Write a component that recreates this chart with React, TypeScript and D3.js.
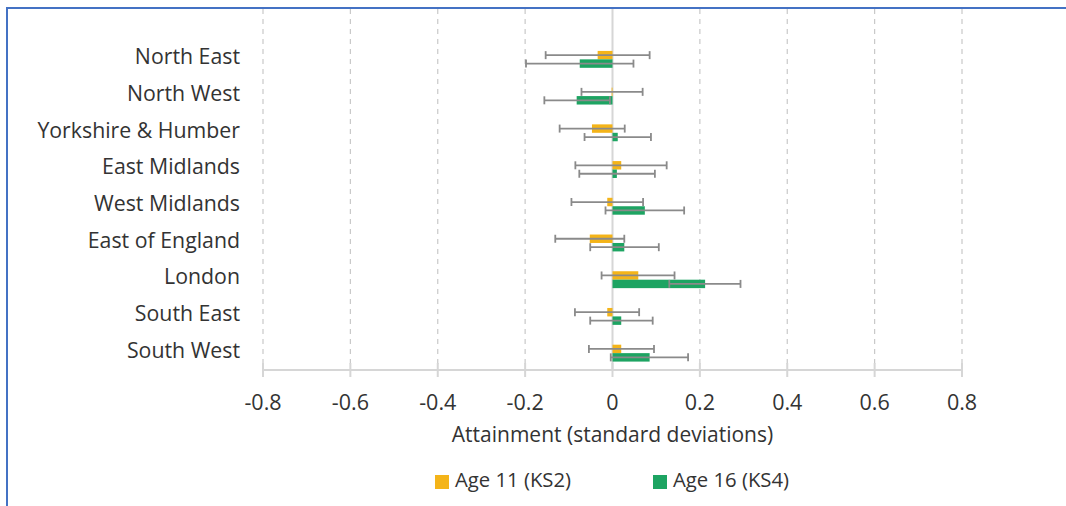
import * as d3 from 'd3';

const categories = [
  'North East',
  'North West',
  'Yorkshire & Humber',
  'East Midlands',
  'West Midlands',
  'East of England',
  'London',
  'South East',
  'South West',
];

// Age 11 (KS2): estimate and confidence interval
const ks2Values = [-0.034, -0.002, -0.047, 0.02, -0.012, -0.052, 0.059, -0.012, 0.02];
const ks2Low = [-0.153, -0.071, -0.121, -0.085, -0.094, -0.131, -0.025, -0.086, -0.054];
const ks2High = [0.085, 0.069, 0.028, 0.124, 0.07, 0.027, 0.142, 0.061, 0.095];

// Age 16 (KS4)
const ks4Values = [-0.075, -0.082, 0.012, 0.01, 0.074, 0.027, 0.212, 0.02, 0.085];
const ks4Low = [-0.198, -0.156, -0.064, -0.076, -0.016, -0.051, 0.13, -0.051, -0.004];
const ks4High = [0.048, -0.006, 0.088, 0.097, 0.164, 0.106, 0.293, 0.092, 0.173];

const xTicks = [-0.8, -0.6, -0.4, -0.2, 0, 0.2, 0.4, 0.6, 0.8];

const series = [
  {key: 'ks2', label: 'Age 11 (KS2)', color: '#F4B419', values: ks2Values, low: ks2Low, high: ks2High},
  {key: 'ks4', label: 'Age 16 (KS4)', color: '#1DA462', values: ks4Values, low: ks4Low, high: ks4High},
];

const width = 1066;
const height = 506;
const font = '"Open Sans", "Noto Sans", sans-serif';
const textColor = '#333333';

const App = () => {
  const x = d3.scaleLinear().domain([-0.8, 0.8]).range([263, 962]);
  const y = d3
    .scaleBand<string>()
    .domain(categories)
    .range([41, 371.5])
    .paddingInner(0.54)
    .paddingOuter(0.27);
  const ySub = d3
    .scaleBand<string>()
    .domain(series.map((s) => s.key))
    .range([0, y.bandwidth()]);

  const axisY = 370;
  const capH = 8;

  return (
    <svg
      width={width}
      height={height}
      style={{position: 'absolute', left: 0, top: 0, background: '#fff'}}
      fontFamily={font}
    >
      {/* frame */}
      <path d={`M7,${height} V8 H${width}`} fill='none' stroke='#4472C4' strokeWidth={2} />

      {/* grid */}
      {xTicks.map((t) =>
        t === 0 ? (
          <line key={t} x1={x(t)} x2={x(t)} y1={9} y2={axisY} stroke='#d6d6d6' strokeWidth={2} />
        ) : (
          <line
            key={t}
            x1={x(t)}
            x2={x(t)}
            y1={9}
            y2={axisY}
            stroke='#c8c8c8'
            strokeWidth={1.2}
            strokeDasharray='5 5'
          />
        )
      )}

      {/* bars */}
      {series.map((s) =>
        categories.map((c, i) => {
          const v = s.values[i];
          const y0 = (y(c) ?? 0) + (ySub(s.key) ?? 0);
          return (
            <rect
              key={s.key + c}
              x={Math.min(x(v), x(0))}
              y={y0}
              width={Math.abs(x(v) - x(0))}
              height={ySub.bandwidth()}
              fill={s.color}
            />
          );
        })
      )}

      {/* error bars */}
      {series.map((s) =>
        categories.map((c, i) => {
          const cy = (y(c) ?? 0) + (ySub(s.key) ?? 0) + ySub.bandwidth() / 2;
          const x1 = x(s.low[i]);
          const x2 = x(s.high[i]);
          return (
            <g key={'e' + s.key + c} stroke='#8a8a8a' strokeWidth={1.8}>
              <line x1={x1} x2={x2} y1={cy} y2={cy} />
              <line x1={x1} x2={x1} y1={cy - capH / 2} y2={cy + capH / 2} />
              <line x1={x2} x2={x2} y1={cy - capH / 2} y2={cy + capH / 2} />
            </g>
          );
        })
      )}

      {/* category labels */}
      {categories.map((c) => (
        <text
          key={c}
          x={240}
          y={(y(c) ?? 0) + y.bandwidth() / 2 - 1}
          textAnchor='end'
          dominantBaseline='middle'
          fontSize={21.3}
          fill={textColor}
        >
          {c}
        </text>
      ))}

      {/* x axis */}
      <line x1={x(-0.8)} x2={x(0.8)} y1={axisY} y2={axisY} stroke='#d6d6d6' strokeWidth={2} />
      {xTicks.map((t) => (
        <g key={'t' + t}>
          <line x1={x(t)} x2={x(t)} y1={axisY - 7} y2={axisY + 7} stroke='#d6d6d6' strokeWidth={2} />
          <text
            x={x(t)}
            y={404}
            textAnchor='middle'
            dominantBaseline='middle'
            fontSize={21.5}
            fill={textColor}
          >
            {t === 0 ? '0' : t.toFixed(1)}
          </text>
        </g>
      ))}
      <text x={x(0)} y={436} textAnchor='middle' dominantBaseline='middle' fontSize={21} fill={textColor}>
        Attainment (standard deviations)
      </text>

      {/* legend */}
      {series.map((s, i) => {
        const lx = i === 0 ? 435 : 653;
        return (
          <g key={'l' + s.key}>
            <rect x={lx} y={475} width={14} height={14} fill={s.color} />
            <text x={lx + 20} y={482} dominantBaseline='middle' fontSize={20.3} fill={textColor}>
              {s.label}
            </text>
          </g>
        );
      })}
    </svg>
  );
};

export default App;
